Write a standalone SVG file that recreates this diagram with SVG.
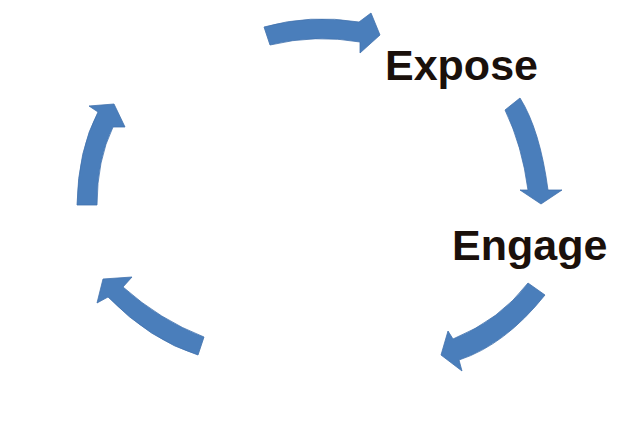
<svg xmlns="http://www.w3.org/2000/svg" width="641" height="434" viewBox="0 0 641 434">
<style>
.a{fill:#4a7ebb;stroke:#4272ad;stroke-width:0.8}
.t{font-family:"Liberation Sans",Arial,sans-serif;font-weight:bold;font-size:43px;fill:#1a100b}
</style>
<rect width="641" height="434" fill="#fff"/>
<g id="connectors">
<path class="a" d="M264,27 Q310,14 359,22 L371,13 L380,35 L360,53 L360,42 Q315,34 270,45 Z"/>
<path class="a" d="M505,110 L520,98 Q540,130 548,190 L562,190 L541,204 L520,190 L528,190 Q522,145 505,110 Z"/>
<path class="a" d="M528,283 L545,295 Q505,345 459,360 L462,371 L441,355 L448,331 L453,339 Q500,320 528,283 Z"/>
<path class="a" d="M204,337 L198,355 Q150,340 108,297 L97,303 L103,279 L132,277 L123,287 Q160,320 204,337 Z"/>
<path class="a" d="M77,205 L97,205 Q97,160 113,127 L125,127 L114,104 L89,106 L98,112 Q78,150 77,205 Z"/>
</g>
<g id="expose"><text class="t" x="385" y="80">Expose</text></g>
<g id="engage"><text class="t" x="452" y="260">Engage</text></g>
</svg>
